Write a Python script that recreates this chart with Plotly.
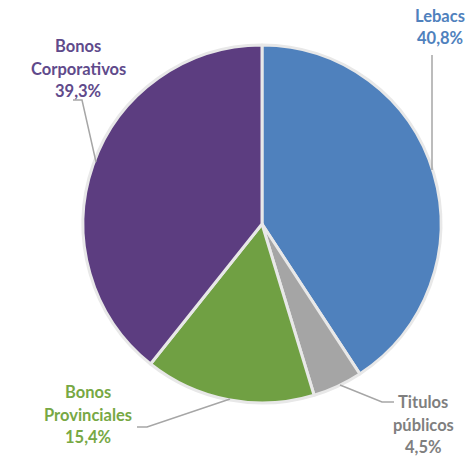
import plotly.graph_objects as go

W, H = 471, 459

labels = ["Lebacs", "Titulos públicos", "Bonos Provinciales", "Bonos Corporativos"]
values = [40.8, 4.5, 15.4, 39.3]
slice_colors = ["#4F81BD", "#A5A5A5", "#70A043", "#5C3D80"]
text_colors = ["#4F81BD", "#7F7F7F", "#77A844", "#604A8B"]
label_lines = [["Lebacs"], ["Titulos", "públicos"], ["Bonos", "Provinciales"], ["Bonos", "Corporativos"]]

# label layout (pixel centres of first text line, line step) and leader polylines
label_pos = [(440, 16), (423, 402), (88, 392), (78, 46)]
line_step = 22.5
leaders = [
    [(432, 55), (432, 170)],
    [(394, 402), (382, 402), (340, 385)],
    [(137, 427), (147, 427), (230, 399)],
    [(73, 100), (82, 100), (96, 162)],
]

def px(x):
    return x / W

def py(y):
    return 1 - y / H

fig = go.Figure(go.Pie(
    labels=labels,
    values=values,
    sort=False,
    direction="clockwise",
    rotation=0,
    marker=dict(colors=slice_colors, line=dict(color="#E8E8E8", width=3)),
    textinfo="none",
    hoverinfo="label+percent",
    showlegend=False,
    domain=dict(x=[px(83), px(441)], y=[py(403), py(45)]),
))

annotations = []
for lines, (cx, cy), col, v in zip(label_lines, label_pos, text_colors, values):
    pct = f"{v:.1f}".replace(".", ",") + "%"
    for i, t in enumerate(lines + [pct]):
        annotations.append(dict(
            x=px(cx), y=py(cy + i * line_step), xref="paper", yref="paper",
            text=f"<b>{t}</b>", showarrow=False, xanchor="center", yanchor="middle",
            font=dict(family="Lato, Open Sans, sans-serif", size=16.5, color=col),
        ))

shapes = []
for pts in leaders:
    path = "M " + " L ".join(f"{px(x):.5f},{py(y):.5f}" for x, y in pts)
    shapes.append(dict(type="path", path=path, xref="paper", yref="paper",
                       line=dict(color="#A6A6A6", width=1.5)))

fig.update_layout(
    width=W, height=H,
    margin=dict(l=0, r=0, t=0, b=0),
    paper_bgcolor="white", plot_bgcolor="white",
    annotations=annotations, shapes=shapes,
)

fig.write_html("out.html")
